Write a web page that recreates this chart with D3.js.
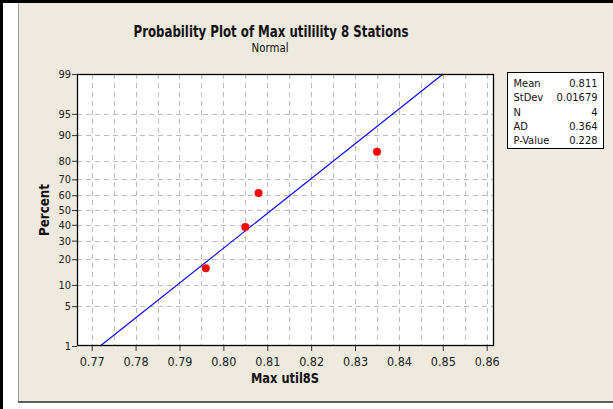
<!DOCTYPE html>
<html><head><meta charset="utf-8">
<script src="https://cdn.jsdelivr.net/npm/d3@7"></script>
<style>
html,body{margin:0;padding:0;background:#fff;}
svg{display:block;}
text{font-family:Tahoma,"DejaVu Sans",Verdana,sans-serif;font-stretch:condensed;}
</style></head>
<body>
<svg id="chart" width="613" height="409"></svg>
<script>
// ---- data ----
const dataValues = [0.796, 0.805, 0.808, 0.835];
const xTicks = [0.77, 0.78, 0.79, 0.80, 0.81, 0.82, 0.83, 0.84, 0.85, 0.86];
const xGrid = [0.77,0.775,0.78,0.785,0.79,0.795,0.80,0.805,0.81,0.815,0.82,0.825,0.83,0.835,0.84,0.845,0.85,0.855,0.86];
const yTicks = [1, 5, 10, 20, 30, 40, 50, 60, 70, 80, 90, 95, 99];
const fitMean = 0.811;
const fitSd = 0.01679;
const statNames = ["Mean", "StDev", "N", "AD", "P-Value"];
const statValues = ["0.811", "0.01679", "4", "0.364", "0.228"];
const titleText = "Probability Plot of Max utilility 8 Stations";
const subtitleText = "Normal";
const xLabel = "Max util8S";
const yLabel = "Percent";

// inverse normal CDF (Acklam)
function probit(p){
  const a=[-3.969683028665376e+01,2.209460984245205e+02,-2.759285104469687e+02,1.383577518672690e+02,-3.066479806614716e+01,2.506628277459239e+00];
  const b=[-5.447609879822406e+01,1.615858368580409e+02,-1.556989798598866e+02,6.680131188771972e+01,-1.328068155288572e+01];
  const c=[-7.784894002430293e-03,-3.223964580411365e-01,-2.400758277161838e+00,-2.549671348440621e+00,4.374664141464968e+00,2.938163982698783e+00];
  const d=[7.784695709041462e-03,3.224671290700398e-01,2.445134137142996e+00,3.754408661907416e+00];
  const pl=0.02425, ph=1-pl; let q,r;
  if(p<pl){q=Math.sqrt(-2*Math.log(p));return (((((c[0]*q+c[1])*q+c[2])*q+c[3])*q+c[4])*q+c[5])/((((d[0]*q+d[1])*q+d[2])*q+d[3])*q+1);}
  if(p<=ph){q=p-0.5;r=q*q;return (((((a[0]*r+a[1])*r+a[2])*r+a[3])*r+a[4])*r+a[5])*q/(((((b[0]*r+b[1])*r+b[2])*r+b[3])*r+b[4])*r+1);}
  q=Math.sqrt(-2*Math.log(1-p));return -(((((c[0]*q+c[1])*q+c[2])*q+c[3])*q+c[4])*q+c[5])/((((d[0]*q+d[1])*q+d[2])*q+d[3])*q+1);
}

const svg = d3.select("#chart");
const W=613,H=409;
const bg="#EEEAE0";
// frame
svg.append("rect").attr("x",0).attr("y",0).attr("width",W).attr("height",H).attr("fill","#fff");
svg.append("rect").attr("x",19).attr("y",3).attr("width",W-19).attr("height",398).attr("fill",bg);
svg.append("line").attr("x1",18.5).attr("x2",18.5).attr("y1",3).attr("y2",402).attr("stroke","#a0a0a0").attr("stroke-width",1);
svg.append("rect").attr("x",18).attr("y",401).attr("width",W-18).attr("height",2).attr("fill","#5c5c5c");
svg.append("rect").attr("x",0).attr("y",0).attr("width",W).attr("height",3).attr("fill","#000");
svg.append("rect").attr("x",0).attr("y",0).attr("width",3).attr("height",H).attr("fill","#000");

// plot area
const L=77, R=494, T=74, B=346;
const x = d3.scaleLinear().domain([0.76665, 0.86166]).range([L, R]);
const zMax = probit(0.99);
const zs = d3.scaleLinear().domain([-zMax, zMax]).range([B, T]);
const y = pct => zs(probit(pct/100));

svg.append("rect").attr("x",L).attr("y",T).attr("width",R-L).attr("height",B-T).attr("fill","#fff");

// grid
const grid = svg.append("g").attr("stroke","#bdbdbd").attr("stroke-width",1).attr("stroke-dasharray","5,4");
grid.selectAll("line.v").data(xGrid).enter().append("line")
  .attr("x1",d=>Math.round(x(d))+0.5).attr("x2",d=>Math.round(x(d))+0.5).attr("y1",T).attr("y2",B);
grid.selectAll("line.h").data(yTicks.filter(d=>d>1&&d<99)).enter().append("line")
  .attr("y1",d=>Math.round(y(d))+0.5).attr("y2",d=>Math.round(y(d))+0.5).attr("x1",L).attr("x2",R);

// fitted line
const pLo=0.01, pHi=0.99;
const fit = [[fitMean+fitSd*probit(pLo), pLo*100],[fitMean+fitSd*probit(pHi), pHi*100]];
svg.append("line")
  .attr("x1",x(fit[0][0])).attr("y1",y(fit[0][1]))
  .attr("x2",x(fit[1][0])).attr("y2",y(fit[1][1]))
  .attr("stroke","#0000ff").attr("stroke-width",1.1);

// points (median ranks)
const n = dataValues.length;
const pts = dataValues.slice().sort(d3.ascending).map((v,i)=>({v, p:(i+1-0.3)/(n+0.4)*100}));
svg.selectAll("circle.pt").data(pts).enter().append("circle")
  .attr("cx",d=>x(d.v)).attr("cy",d=>y(d.p)).attr("r",4).attr("fill","#ff0000");

// border
svg.append("rect").attr("x",L+0.5).attr("y",T+0.5).attr("width",R-L-1).attr("height",B-T-1)
  .attr("fill","none").attr("stroke","#000").attr("stroke-width",1.3);

// axes
const xAxis = d3.axisBottom(x).tickValues(xTicks).tickFormat(d3.format(".2f")).tickSize(5).tickSizeOuter(0);
const gx = svg.append("g").attr("transform",`translate(0,${B})`).call(xAxis);
gx.select(".domain").remove();
gx.selectAll("text").attr("font-size",12.5).attr("fill","#222").attr("dy","0.95em")
  .style("font-family","Tahoma,'DejaVu Sans',sans-serif").style("font-stretch","condensed");
gx.selectAll("line").attr("stroke","#333");

const yAxis = d3.axisLeft(zs).tickValues(yTicks.map(p=>probit(p/100))).tickFormat((d,i)=>yTicks[i]).tickSize(5).tickSizeOuter(0);
const gy = svg.append("g").attr("transform",`translate(${L},0)`).call(yAxis);
gy.select(".domain").remove();
gy.selectAll("text").attr("font-size",11).attr("fill","#222").attr("x",-6)
  .style("font-family","Tahoma,'DejaVu Sans',sans-serif").style("font-stretch","condensed");
gy.selectAll("line").attr("stroke","#333");

// titles
svg.append("text").attr("x",271).attr("y",37).attr("text-anchor","middle").attr("font-size",15.5).attr("font-weight","bold").attr("fill","#111")
  .attr("textLength",275).attr("lengthAdjust","spacingAndGlyphs").text(titleText);
svg.append("text").attr("x",270).attr("y",52).attr("text-anchor","middle").attr("font-size",12.5).attr("fill","#111")
  .attr("textLength",37).attr("lengthAdjust","spacingAndGlyphs").text(subtitleText);
svg.append("text").attr("x",285).attr("y",383).attr("text-anchor","middle").attr("font-size",14).attr("font-weight","bold").attr("fill","#111")
  .attr("textLength",68).attr("lengthAdjust","spacingAndGlyphs").text(xLabel);
svg.append("text").attr("transform","translate(49,210) rotate(-90)").attr("text-anchor","middle").attr("font-size",14).attr("font-weight","bold").attr("fill","#111")
  .attr("textLength",52).attr("lengthAdjust","spacingAndGlyphs").text(yLabel);

// stats box
const bx=507.5, by=72.5, bw=96, bh=76;
svg.append("rect").attr("x",bx).attr("y",by).attr("width",bw).attr("height",bh).attr("fill","#fff").attr("stroke","#000").attr("stroke-width",1);
const rows = svg.append("g");
statNames.forEach((nm,i)=>{
  const yy = by + 14.5 + i*14.3;
  rows.append("text").attr("x",bx+6).attr("y",yy).attr("font-size",11).attr("fill","#111").text(nm);
  rows.append("text").attr("x",bx+bw-6).attr("y",yy).attr("text-anchor","end").attr("font-size",11).attr("fill","#111").text(statValues[i]);
});
</script>
</body></html>
